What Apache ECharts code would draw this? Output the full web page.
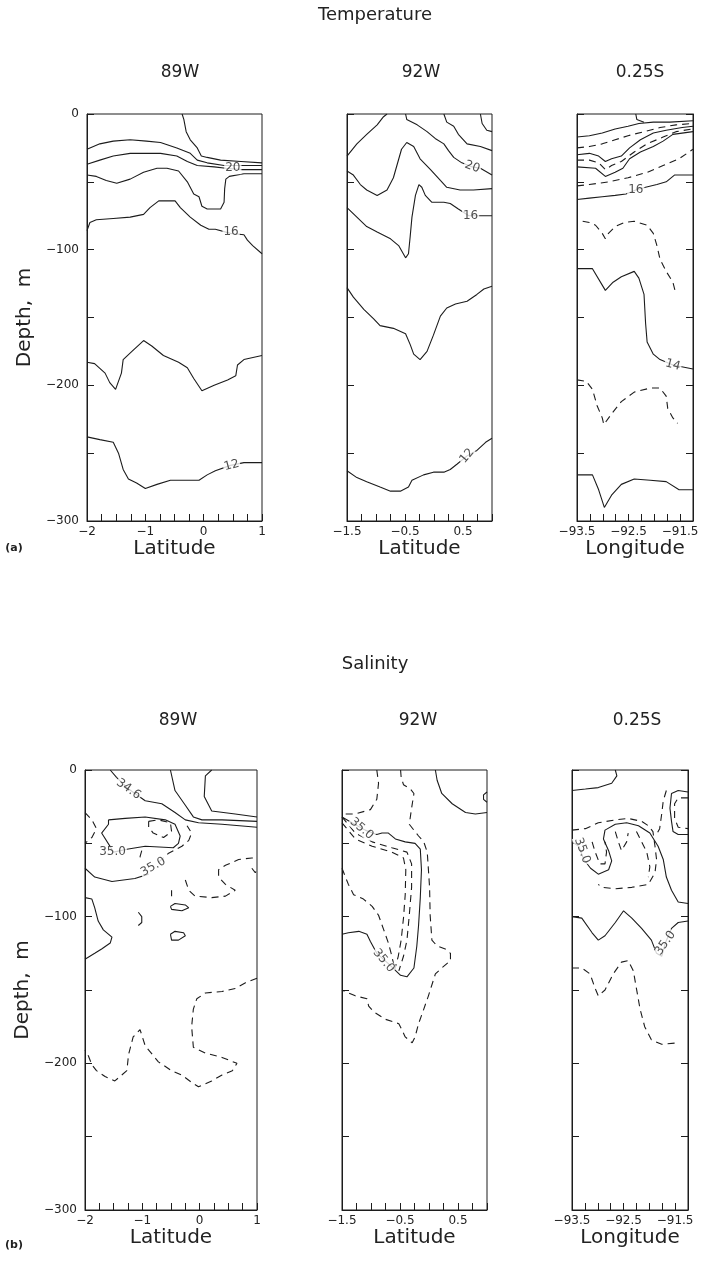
<!DOCTYPE html>
<html>
<head>
<meta charset="utf-8">
<script src="https://cdn.jsdelivr.net/npm/echarts@6/dist/echarts.min.js"></script>
<style>
  html, body { margin: 0; background: #fff; }
  #chart { width: 709px; height: 1267px; }
</style>
</head>
<body>
<div id="chart"></div>
<script>
// ---- tick labels ----
const latTicks89 = [-2, -1, 0, 1];
const latTicks92 = [-1.5, -0.5, 0.5];
const lonTicks = [-93.5, -92.5, -91.5];
const depthTicks = [0, -100, -200, -300];

// ---- Temperature, 89W (lat, depth) ----
const t89A = [[-0.37,0],[-0.34,-4],[-0.30,-13],[-0.23,-19],[-0.11,-25],[-0.04,-31],[0.06,-32],[0.29,-34],[0.64,-35],[1.0,-36]];
const t89B = [[-2,-26],[-1.78,-22],[-1.55,-20],[-1.26,-19],[-0.98,-20],[-0.74,-21],[-0.46,-25],[-0.23,-29],[-0.11,-34],[0.06,-36],[0.35,-38],[0.75,-38],[1.0,-38]];
const t89C = [[-2,-37],[-1.78,-34],[-1.55,-31],[-1.26,-29],[-0.98,-29],[-0.74,-29],[-0.46,-31],[-0.28,-35],[-0.11,-38],[0.18,-39],[0.38,-40],[0.64,-41],[1.0,-41]];
const t89D = [[-2,-45],[-1.84,-46],[-1.67,-49],[-1.49,-51],[-1.26,-48],[-1.03,-43],[-0.80,-40],[-0.63,-40],[-0.43,-42],[-0.28,-50],[-0.17,-59],[-0.08,-61],[-0.03,-68],[0.06,-70],[0.29,-70],[0.35,-65],[0.36,-55],[0.38,-48],[0.44,-46],[0.69,-44],[1.0,-44]];
const t89E = [[-2,-86],[-1.95,-80],[-1.84,-78],[-1.55,-77],[-1.26,-76],[-1.03,-74],[-0.92,-69],[-0.77,-64],[-0.49,-64],[-0.40,-69],[-0.23,-76],[-0.05,-82],[0.09,-85],[0.20,-85],[0.46,-88],[0.69,-89],[0.75,-93],[0.84,-97],[1.0,-103]];
const t89F = [[-2,-183],[-1.87,-184],[-1.69,-191],[-1.61,-198],[-1.51,-203],[-1.41,-191],[-1.38,-181],[-1.23,-175],[-1.03,-167],[-0.89,-171],[-0.69,-178],[-0.43,-183],[-0.28,-187],[-0.17,-195],[-0.03,-204],[0.18,-200],[0.41,-196],[0.55,-193],[0.58,-185],[0.69,-181],[1.0,-178]];
const t89G = [[-2,-238],[-1.78,-240],[-1.55,-242],[-1.46,-250],[-1.38,-262],[-1.29,-269],[-1.15,-272],[-1.00,-276],[-0.80,-273],[-0.57,-270],[-0.40,-270],[-0.08,-270],[0.06,-266],[0.20,-263],[0.46,-259],[0.69,-257],[1.0,-257]];
const t89Labels = [[0.5,-40,'20',0],[0.47,-87,'16',0],[0.48,-259,'12',15]];

// ---- Temperature, 92W ----
const t92A = [[-1.5,-31],[-1.33,-22],[-1.16,-15],[-0.98,-8],[-0.87,-2],[-0.81,0]];
const t92B = [[-0.49,0],[-0.47,-4],[-0.29,-8],[-0.12,-13],[0.02,-18],[0.17,-22],[0.25,-27],[0.34,-32],[0.48,-36],[0.66,-39],[0.80,-40],[1.0,-45]];
const t92C = [[0.17,0],[0.22,-6],[0.34,-9],[0.42,-15],[0.57,-22],[0.80,-24],[1.0,-27]];
const t92D = [[0.80,0],[0.83,-7],[0.91,-12],[1.0,-13]];
const t92E = [[-1.5,-42],[-1.39,-45],[-1.27,-52],[-1.16,-56],[-0.98,-60],[-0.81,-56],[-0.70,-47],[-0.56,-26],[-0.47,-21],[-0.35,-24],[-0.24,-33],[-0.06,-41],[0.11,-49],[0.22,-54],[0.45,-56],[0.68,-56],[1.0,-55]];
const t92F = [[-1.5,-69],[-1.33,-76],[-1.16,-83],[-0.98,-87],[-0.75,-92],[-0.61,-97],[-0.49,-106],[-0.44,-103],[-0.41,-90],[-0.38,-76],[-0.32,-60],[-0.26,-52],[-0.21,-54],[-0.15,-60],[-0.04,-65],[0.17,-65],[0.28,-66],[0.42,-70],[0.60,-75],[0.86,-75],[1.0,-75]];
const t92G = [[-1.5,-128],[-1.39,-135],[-1.21,-144],[-1.04,-151],[-0.93,-156],[-0.70,-158],[-0.49,-162],[-0.41,-170],[-0.35,-177],[-0.24,-181],[-0.12,-175],[-0.01,-163],[0.11,-149],[0.22,-143],[0.37,-140],[0.57,-138],[0.74,-133],[0.86,-129],[1.0,-127]];
const t92H = [[-1.5,-263],[-1.33,-268],[-1.16,-271],[-0.93,-275],[-0.75,-278],[-0.58,-278],[-0.44,-275],[-0.38,-270],[-0.18,-266],[-0.01,-264],[0.17,-264],[0.28,-262],[0.40,-258],[0.57,-252],[0.74,-248],[0.89,-242],[1.0,-239]];
const t92Labels = [[0.66,-39,'20',-20],[0.63,-75,'16',0],[0.57,-252,'12',50]];

// ---- Temperature, 0.25S (lon, depth) ----
const tLonS1 = [[-93.5,-17],[-93.26,-16],[-93.01,-14],[-92.76,-11],[-92.51,-9],[-92.30,-7],[-92.02,-6],[-91.70,-6],[-91.25,-5]];
const tLonS2 = [[-92.36,0],[-92.34,-4],[-92.20,-6]];
const tLonS3 = [[-93.5,-30],[-93.26,-29],[-93.08,-31],[-92.95,-35],[-92.83,-33],[-92.64,-31],[-92.48,-25],[-92.27,-19],[-92.02,-14],[-91.77,-12],[-91.46,-10],[-91.25,-9]];
const tLonS4 = [[-93.5,-39],[-93.14,-40],[-92.95,-46],[-92.76,-43],[-92.61,-40],[-92.48,-33],[-92.27,-28],[-92.02,-24],[-91.83,-20],[-91.64,-15],[-91.25,-13]];
const tLonS5 = [[-93.5,-63],[-93.26,-62],[-93.01,-61],[-92.76,-60],[-92.55,-59],[-92.36,-56],[-92.17,-54],[-91.95,-52],[-91.77,-50],[-91.61,-45],[-91.46,-45],[-91.25,-45]];
const tLonS6 = [[-93.5,-114],[-93.20,-114],[-92.95,-130],[-92.80,-124],[-92.64,-120],[-92.39,-116],[-92.30,-121],[-92.20,-133],[-92.17,-154],[-92.14,-168],[-92.02,-177],[-91.89,-181],[-91.64,-185],[-91.25,-188]];
const tLonS7 = [[-93.5,-266],[-93.20,-266],[-93.08,-277],[-92.97,-290],[-92.83,-281],[-92.64,-273],[-92.39,-269],[-92.08,-270],[-91.77,-271],[-91.52,-277],[-91.25,-277]];
const tLonD1 = [[-93.5,-25],[-93.26,-24],[-93.01,-22],[-92.76,-19],[-92.51,-16],[-92.20,-13],[-91.89,-10],[-91.58,-8],[-91.25,-7]];
const tLonD2 = [[-93.5,-34],[-93.26,-34],[-93.08,-36],[-92.95,-41],[-92.83,-38],[-92.64,-35],[-92.39,-28],[-92.14,-22],[-91.83,-17],[-91.58,-13],[-91.25,-11]];
const tLonD3 = [[-93.5,-53],[-93.26,-52],[-92.89,-50],[-92.51,-47],[-92.14,-43],[-91.83,-38],[-91.52,-33],[-91.25,-26]];
const tLonD4 = [[-93.39,-79],[-93.26,-80],[-93.14,-82],[-93.01,-88],[-92.95,-92],[-92.89,-88],[-92.76,-83],[-92.58,-80],[-92.39,-79],[-92.14,-82],[-92.02,-88],[-91.95,-97],[-91.89,-107],[-91.77,-116],[-91.64,-124],[-91.58,-133]];
const tLonD5 = [[-93.5,-196],[-93.32,-197],[-93.20,-203],[-93.11,-215],[-93.01,-224],[-92.98,-229],[-92.83,-221],[-92.64,-212],[-92.39,-205],[-92.08,-202],[-91.89,-202],[-91.77,-208],[-91.74,-217],[-91.64,-224],[-91.55,-228]];
const tLonLabels = [[-92.36,-56,'16',0],[-91.64,-185,'14',-15]];

// ---- Salinity, 89W ----
const s89A = [[-1.56,0],[-1.45,-5],[-1.24,-13],[-0.95,-21],[-0.66,-23],[-0.43,-29],[-0.25,-34],[-0.02,-36],[0.39,-37],[1.0,-39]];
const s89B = [[-0.51,0],[-0.43,-14],[-0.25,-24],[-0.11,-32],[0.04,-34],[0.39,-34],[1.0,-35]];
const s89C = [[0.21,0],[0.10,-4],[0.08,-18],[0.21,-28],[0.62,-30],[1.0,-32]];
const s89D = [[-1.59,-34],[-1.30,-33],[-0.95,-32],[-0.60,-34],[-0.43,-37],[-0.34,-45],[-0.37,-50],[-0.46,-53],[-0.95,-52],[-1.27,-54],[-1.50,-56],[-1.71,-43],[-1.59,-37],[-1.59,-34]];
const s89E = [[-2,-67],[-1.83,-73],[-1.53,-76],[-1.13,-74],[-0.89,-71]];
const s89F = [[-2,-87],[-1.88,-88],[-1.83,-94],[-1.77,-103],[-1.68,-109],[-1.53,-114],[-1.56,-118],[-1.71,-122],[-1.83,-125],[-2,-129]];
const s89G = [[-0.51,-93],[-0.43,-91],[-0.25,-92],[-0.19,-94],[-0.31,-96],[-0.49,-95],[-0.51,-93]];
const s89H = [[-0.51,-112],[-0.43,-110],[-0.28,-111],[-0.25,-113],[-0.37,-116],[-0.49,-116],[-0.51,-112]];
const s89I = [[-1.07,-97],[-1.01,-100],[-1.01,-104],[-1.07,-106]];
const s89dA = [[-2,-29],[-1.88,-34],[-1.80,-40],[-1.88,-46],[-2,-50]];
const s89dB = [[-0.89,-35],[-0.72,-34],[-0.51,-36],[-0.49,-42],[-0.63,-46],[-0.81,-43],[-0.89,-39],[-0.89,-35]];
const s89dC = [[-1.01,-55],[-1.04,-59],[-1.01,-62]];
const s89dD = [[-0.72,-63],[-0.55,-57],[-0.31,-52],[-0.19,-48],[-0.14,-43],[-0.22,-38]];
const s89dE = [[-0.25,-75],[-0.19,-82],[-0.08,-86],[0.21,-87],[0.45,-86],[0.62,-82],[0.45,-78],[0.33,-73],[0.33,-68],[0.45,-65],[0.68,-61],[0.91,-60],[1.0,-60]];
const s89dF = [[0.91,-67],[0.97,-70],[1.0,-68]];
const s89dG = [[-0.49,-82],[-0.49,-86]];
const s89dH = [[1.0,-142],[0.80,-145],[0.62,-149],[0.39,-151],[0.10,-152],[-0.05,-156],[-0.11,-163],[-0.14,-175],[-0.11,-189],[0.10,-193],[0.39,-196],[0.65,-200],[0.57,-205],[0.39,-208],[0.21,-212],[-0.02,-216],[-0.14,-213],[-0.31,-208],[-0.49,-205],[-0.72,-199],[-0.95,-188],[-1.04,-177],[-1.16,-182],[-1.24,-194],[-1.27,-205],[-1.48,-212],[-1.65,-209],[-1.80,-205],[-1.88,-201],[-1.94,-195],[-2,-191]];
const s89Labels = [[-1.24,-13,'34.6',-35],[-1.52,-56,'35.0',0],[-0.81,-66,'35.0',30]];

// ---- Salinity, 92W ----
const s92A = [[0.11,0],[0.14,-7],[0.22,-16],[0.40,-23],[0.63,-29],[0.80,-30],[1.0,-29]];
const s92B = [[1.0,-15],[0.94,-17],[0.94,-20],[1.0,-22]];
const s92C = [[-1.5,-32],[-1.33,-36],[-1.10,-41],[-0.90,-44],[-0.81,-43],[-0.70,-43],[-0.58,-47],[-0.41,-49],[-0.24,-50],[-0.15,-54],[-0.13,-68],[-0.15,-87],[-0.18,-106],[-0.21,-120],[-0.26,-135],[-0.38,-141],[-0.49,-140],[-0.70,-132],[-0.90,-125],[-1.01,-117],[-1.07,-112],[-1.21,-110],[-1.39,-111],[-1.5,-112]];
const s92dA = [[-1.5,-32],[-1.27,-43],[-0.98,-49],[-0.64,-53],[-0.38,-56],[-0.30,-64],[-0.30,-80],[-0.34,-99],[-0.38,-116],[-0.44,-127],[-0.52,-137]];
const s92dB = [[-1.5,-36],[-1.27,-47],[-0.98,-52],[-0.64,-56],[-0.44,-60],[-0.40,-68],[-0.41,-85],[-0.44,-101],[-0.48,-116],[-0.53,-127],[-0.59,-136]];
const s92dC = [[-1.5,-67],[-1.39,-78],[-1.30,-85],[-1.13,-88],[-0.98,-93],[-0.87,-99],[-0.78,-109],[-0.70,-118],[-0.64,-127],[-0.59,-136]];
const s92dD = [[-0.90,0],[-0.87,-9],[-0.90,-20],[-1.01,-27],[-1.27,-30],[-1.5,-30]];
const s92dE = [[-0.49,0],[-0.48,-5],[-0.44,-10],[-0.32,-13],[-0.26,-16],[-0.30,-26],[-0.34,-37],[-0.18,-45],[-0.09,-49],[-0.03,-56],[-0.01,-68],[0.01,-80],[0.02,-99],[0.05,-116],[0.14,-120],[0.28,-122],[0.37,-125],[0.37,-130],[0.22,-135],[0.11,-139],[-0.01,-154],[-0.09,-163],[-0.18,-173],[-0.24,-182],[-0.29,-186],[-0.41,-182],[-0.47,-177],[-0.52,-173],[-0.75,-170],[-0.95,-165],[-1.04,-161],[-1.07,-156],[-1.27,-154],[-1.5,-150]];
const s92Labels = [[-1.16,-40,'35.0',-40],[-0.78,-130,'35.0',-50]];

// ---- Salinity, 0.25S ----
const sLonA = [[-93.5,-14],[-93.24,-13],[-92.99,-12],[-92.73,-9],[-92.63,-4],[-92.66,0]];
const sLonB = [[-91.25,-15],[-91.44,-14],[-91.57,-16],[-91.60,-26],[-91.57,-35],[-91.54,-42],[-91.44,-44],[-91.25,-44]];
const sLonC = [[-91.25,-91],[-91.44,-90],[-91.57,-82],[-91.67,-73],[-91.73,-61],[-91.83,-52],[-91.99,-43],[-92.21,-38],[-92.44,-36],[-92.66,-37],[-92.86,-41],[-92.89,-47],[-92.79,-55],[-92.73,-62],[-92.79,-68],[-92.99,-71],[-93.14,-67],[-93.27,-61],[-93.37,-52],[-93.5,-49]];
const sLonD = [[-93.5,-100],[-93.31,-101],[-93.11,-111],[-92.99,-116],[-92.86,-113],[-92.66,-104],[-92.50,-96],[-92.34,-101],[-92.15,-108],[-91.96,-116],[-91.86,-125],[-91.76,-127],[-91.69,-118],[-91.57,-108],[-91.44,-104],[-91.25,-103]];
const sLondA = [[-91.25,-19],[-91.44,-19],[-91.51,-23],[-91.51,-33],[-91.44,-39],[-91.25,-40]];
const sLondB = [[-91.67,-14],[-91.73,-21],[-91.76,-30],[-91.80,-40],[-91.86,-44]];
const sLondC = [[-93.5,-41],[-93.24,-40],[-92.99,-36],[-92.66,-34],[-92.41,-33],[-92.15,-35],[-92.02,-38],[-91.93,-42],[-91.89,-52],[-91.86,-61],[-91.89,-70],[-92.02,-78],[-92.34,-80],[-92.66,-81],[-92.92,-80],[-92.99,-78]];
const sLondD = [[-93.11,-49],[-93.05,-56],[-92.96,-64],[-92.86,-64],[-92.83,-56],[-92.86,-49]];
const sLondE = [[-92.66,-42],[-92.60,-49],[-92.54,-55],[-92.44,-49],[-92.41,-43]];
const sLondF = [[-92.25,-42],[-92.15,-49],[-92.05,-56],[-91.99,-66],[-92.02,-73]];
const sLondG = [[-93.5,-135],[-93.31,-135],[-93.15,-139],[-93.05,-149],[-92.99,-154],[-92.86,-150],[-92.70,-139],[-92.54,-131],[-92.41,-130],[-92.31,-137],[-92.25,-149],[-92.18,-163],[-92.09,-175],[-91.96,-184],[-91.76,-187],[-91.45,-186]];
const sLonLabels = [[-93.3,-55,'35.0',-70],[-91.69,-118,'35.0',55]];

// ---- panels ----
const FONT = 'DejaVu Sans';
const INK = '#1c1c1c';
const panels = [
  { box: [87, 114, 175, 407], x: [-2, 1], xTicks: latTicks89, xName: 'Latitude', yLab: true,
    solid: [t89A, t89B, t89C, t89D, t89E, t89F, t89G], dashed: [], labels: t89Labels },
  { box: [347, 114, 145, 407], x: [-1.5, 1], xTicks: latTicks92, xName: 'Latitude', yLab: false,
    solid: [t92A, t92B, t92C, t92D, t92E, t92F, t92G, t92H], dashed: [], labels: t92Labels },
  { box: [577, 114, 116, 407], x: [-93.5, -91.25], xTicks: lonTicks, xName: 'Longitude', yLab: false, right: true,
    solid: [tLonS1, tLonS2, tLonS3, tLonS4, tLonS5, tLonS6, tLonS7], dashed: [tLonD1, tLonD2, tLonD3, tLonD4, tLonD5], labels: tLonLabels },
  { box: [85, 770, 172, 440], x: [-2, 1], xTicks: latTicks89, xName: 'Latitude', yLab: true,
    solid: [s89A, s89B, s89C, s89D, s89E, s89F, s89G, s89H, s89I], dashed: [s89dA, s89dB, s89dC, s89dD, s89dE, s89dF, s89dG, s89dH], labels: s89Labels },
  { box: [342, 770, 145, 440], x: [-1.5, 1], xTicks: latTicks92, xName: 'Latitude', yLab: false,
    solid: [s92A, s92B, s92C], dashed: [s92dA, s92dB, s92dC, s92dD, s92dE], labels: s92Labels },
  { box: [572, 770, 116, 440], x: [-93.5, -91.25], xTicks: lonTicks, xName: 'Longitude', yLab: false, right: true,
    solid: [sLonA, sLonB, sLonC, sLonD], dashed: [sLondA, sLondB, sLondC, sLondD, sLondE, sLondF, sLondG], labels: sLonLabels }
];

const grids = [], xAxes = [], yAxes = [], series = [];
const tickStyle = { inside: true, length: 7, lineStyle: { color: INK, width: 1 } };
const lineStyle = { onZero: false, lineStyle: { color: INK } };
const minus = v => String(v).replace('-', '\u2212');

panels.forEach((p, i) => {
  grids.push({ left: p.box[0], top: p.box[1], width: p.box[2], height: p.box[3],
    show: true, borderColor: INK, borderWidth: 1 });
  xAxes.push({
    gridIndex: i, type: 'value', position: 'bottom', min: p.x[0], max: p.x[1], interval: 0.25,
    axisLine: lineStyle, axisTick: tickStyle, splitLine: { show: false },
    axisLabel: { customValues: p.xTicks, formatter: minus, fontSize: 12, color: '#222', fontFamily: FONT, margin: 5 },
    name: p.xName, nameLocation: 'middle', nameGap: 18,
    nameTextStyle: { fontSize: 20, color: '#222', fontFamily: FONT }
  });
  yAxes.push({
    gridIndex: i, type: 'value', position: 'left', min: -300, max: 0, interval: 50,
    axisLine: lineStyle, axisTick: tickStyle, splitLine: { show: false },
    axisLabel: p.yLab ? { customValues: depthTicks, formatter: minus, fontSize: 12, color: '#222', fontFamily: FONT, margin: 8 } : { show: false },
    name: p.yLab ? 'Depth,  m' : '', nameLocation: 'middle', nameGap: 52,
    nameTextStyle: { fontSize: 20, color: '#222', fontFamily: FONT }
  });
  p.solid.forEach(d => series.push(contour(i, d, false)));
  p.dashed.forEach(d => series.push(contour(i, d, true)));
  series.push({
    type: 'scatter', xAxisIndex: i, yAxisIndex: i, symbolSize: 0, silent: true, z: 5,
    data: p.labels.map(l => ({ value: [l[0], l[1]], label: { formatter: l[2], rotate: l[3] } })),
    label: { show: true, position: 'inside', fontSize: 12, color: '#222', fontFamily: FONT,
      backgroundColor: '#fff', padding: [0, 1] }
  });
});

// extra tick marks on the right edge of the longitude sections
panels.forEach((p, i) => {
  if (!p.right) return;
  yAxes.push({ gridIndex: i, type: 'value', position: 'right', min: -300, max: 0, interval: 50,
    axisLine: lineStyle, axisTick: tickStyle, axisLabel: { show: false }, splitLine: { show: false } });
});

function contour(i, data, dashed) {
  return {
    type: 'line', xAxisIndex: i, yAxisIndex: i, data: data, symbol: 'none', silent: true, z: 2,
    lineStyle: { color: INK, width: 1.1, type: dashed ? [7, 5] : 'solid' }
  };
}

function txt(x, y, s, size, weight) {
  return { type: 'text', x: x, y: y, silent: true,
    style: { text: s, fontSize: size, fontFamily: FONT, fill: '#222', fontWeight: weight || 'normal',
      align: 'center', verticalAlign: 'middle' } };
}

const chart = echarts.init(document.getElementById('chart'));
chart.setOption({
  animation: false,
  backgroundColor: '#fff',
  grid: grids,
  xAxis: xAxes,
  yAxis: yAxes,
  series: series,
  graphic: [
    txt(375, 15, 'Temperature', 18),
    txt(180, 73, '89W', 17), txt(421, 73, '92W', 17), txt(640, 73, '0.25S', 17),
    txt(375, 664, 'Salinity', 18),
    txt(178, 721, '89W', 17), txt(418, 721, '92W', 17), txt(637, 721, '0.25S', 17),
    txt(14, 548, '(a)', 11, 'bold'), txt(14, 1245, '(b)', 11, 'bold')
  ]
});
</script>
</body>
</html>
